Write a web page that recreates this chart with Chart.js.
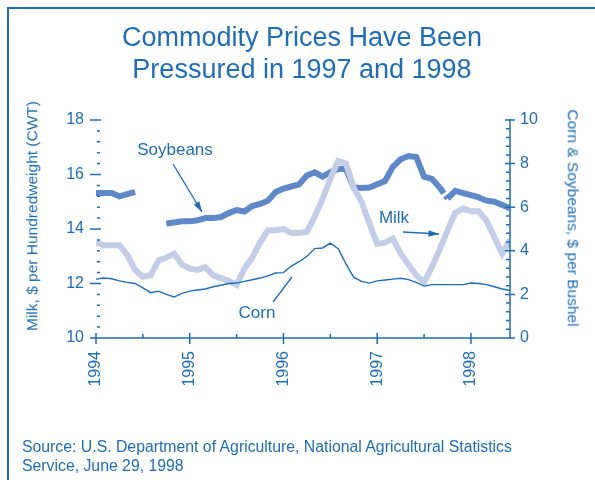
<!DOCTYPE html>
<html>
<head>
<meta charset="utf-8">
<script src="https://cdn.jsdelivr.net/npm/chart.js@4.4.0/dist/chart.umd.min.js"></script>
<style>
  body { margin: 0; background: #fff; font-family: "Liberation Sans", Arial, sans-serif; }
  #wrap { position: relative; width: 595px; height: 480px; overflow: hidden; }
  #frame { position: absolute; left: 7px; top: 7px; width: 620px; height: 520px;
           border-left: 2px solid #1f6db2; border-top: 2px solid #1f6db2; }
  canvas { position: absolute; left: 0; top: 0; }
  .txt { position: absolute; color: #1f6db2; white-space: nowrap; line-height: 1; }
  #title { left: 0; width: 604px; top: 21px; text-align: center; font-size: 27px; line-height: 32px; }
  #source { left: 22px; top: 437px; font-size: 15.8px; line-height: 19px; }
  #yTitleL { left: 32px; top: 216px; font-size: 15.5px; transform: translate(-50%, -50%) rotate(-90deg); }
  #yTitleR { left: 573px; top: 218px; font-size: 15.5px; transform: translate(-50%, -50%) rotate(90deg); }
  .note { font-size: 17px; transform: translate(-50%, -50%); }
</style>
</head>
<body>
<div id="wrap">
  <div id="frame"></div>
  <canvas id="chart" width="595" height="480"></canvas>
  <div class="txt" id="title">Commodity Prices Have Been<br>Pressured in 1997 and 1998</div>
  <div class="txt" id="yTitleL">Milk, $ per Hundredweight (CWT)</div>
  <div class="txt" id="yTitleR">Corn &amp; Soybeans, $ per Bushel</div>
  <div class="txt note" style="left:175px; top:149px;">Soybeans</div>
  <div class="txt note" style="left:257px; top:312px;">Corn</div>
  <div class="txt note" style="left:394px; top:217px;">Milk</div>
  <div class="txt" id="source">Source: U.S. Department of Agriculture, National Agricultural Statistics<br>Service, June 29, 1998</div>
</div>
<script>
// monthly prices, Jan 1994 - Jun 1998
const years = ['1994', '1995', '1996', '1997', '1998'];

// milk, $ per cwt (left axis)
const milk = [
  13.5, 13.4, 13.4, 13.4, 13.05, 12.5, 12.25, 12.3, 12.85, 12.95, 13.1, 12.7,
  12.55, 12.5, 12.6, 12.3, 12.2, 12.1, 11.95, 12.55, 12.95, 13.5, 13.95, 13.95,
  14.0, 13.85, 13.85, 13.9, 14.45, 15.1, 15.85, 16.5, 16.4, 15.5, 15.0, 14.2,
  13.45, 13.5, 13.65, 13.1, 12.7, 12.3, 12.05, 12.6, 13.25, 13.95, 14.6, 14.75,
  14.65, 14.65, 14.3, 13.7, 13.1, 13.6
];

// soybeans, $ per bushel (right axis) - no data summer 1994
const soybeans = [
  6.65, 6.65, 6.65, 6.5, 6.6, 6.7, null, null, null, 5.25, 5.3, 5.35,
  5.35, 5.4, 5.5, 5.5, 5.55, 5.73, 5.87, 5.8, 6.05, 6.15, 6.3, 6.7,
  6.85, 6.95, 7.05, 7.45, 7.6, 7.4, 7.6, 7.75, 7.75, 6.9, 6.88, 6.9,
  7.05, 7.2, 7.85, 8.2, 8.35, 8.3, 7.4, 7.3, 6.9, 6.4, 6.75, 6.65,
  6.55, 6.45, 6.3, 6.25, 6.1, 5.95
];

// corn, $ per bushel (right axis)
const corn = [
  2.7, 2.75, 2.72, 2.62, 2.55, 2.5, 2.3, 2.08, 2.15, 2.0, 1.88, 2.05,
  2.15, 2.2, 2.25, 2.35, 2.42, 2.5, 2.52, 2.6, 2.67, 2.75, 2.85, 2.98,
  3.0, 3.3, 3.5, 3.75, 4.1, 4.13, 4.35, 4.1, 3.4, 2.78, 2.6, 2.52,
  2.62, 2.66, 2.7, 2.74, 2.68, 2.55, 2.38, 2.45, 2.45, 2.45, 2.45, 2.45,
  2.52, 2.5, 2.45, 2.35, 2.25, 2.18
];

const blue = '#1f6db2';
const fontFam = '"Liberation Sans", Arial, sans-serif';
const pts = arr => arr.map((v, i) => ({ x: i, y: v }));

// axis lines + major/minor tick marks
const tickMarks = {
  id: 'tickMarks',
  afterDraw(chart) {
    const { ctx, chartArea: a, scales } = chart;
    const x = scales.x, yl = scales.yMilk, yr = scales.yBushel;
    ctx.save();
    ctx.strokeStyle = blue;
    ctx.lineWidth = 1.5;
    ctx.beginPath();
    ctx.moveTo(a.left - 4, a.bottom); ctx.lineTo(a.right, a.bottom);
    ctx.moveTo(a.right, a.top - 1); ctx.lineTo(a.right, a.bottom);
    for (let m = 0; m <= x.max; m += 6) {
      const px = x.getPixelForValue(m);
      if (m % 12 === 0) { ctx.moveTo(px, a.bottom - 5); ctx.lineTo(px, a.bottom + 6); }
      else { ctx.moveTo(px, a.bottom - 4); ctx.lineTo(px, a.bottom); }
    }
    for (let i = 0; i <= 20; i++) {
      const py = yl.getPixelForValue(yl.min + i * 0.4);
      if (i % 5 === 0) { ctx.moveTo(a.left - 6, py); ctx.lineTo(a.left + 5, py); }
      else { ctx.moveTo(a.left + 1, py); ctx.lineTo(a.left + 4, py); }
    }
    for (let i = 0; i <= 25; i++) {
      const py = yr.getPixelForValue(i * 0.4);
      if (i % 5 === 0) { ctx.moveTo(a.right - 5, py); ctx.lineTo(a.right + 5, py); }
      else { ctx.moveTo(a.right - 4, py); ctx.lineTo(a.right, py); }
    }
    ctx.stroke();

    // pointer lines for the series notes
    const arrow = (x1, y1, x2, y2, head) => {
      ctx.beginPath();
      ctx.moveTo(x1, y1); ctx.lineTo(x2, y2);
      ctx.stroke();
      if (!head) return;
      const ang = Math.atan2(y2 - y1, x2 - x1);
      ctx.beginPath();
      ctx.moveTo(x2, y2);
      ctx.lineTo(x2 - 11 * Math.cos(ang - 0.3), y2 - 11 * Math.sin(ang - 0.3));
      ctx.lineTo(x2 - 11 * Math.cos(ang + 0.3), y2 - 11 * Math.sin(ang + 0.3));
      ctx.closePath();
      ctx.fill();
    };
    ctx.fillStyle = blue;
    ctx.lineWidth = 1.3;
    arrow(173, 164, 202, 212, true);
    arrow(273, 302, 292, 277, false);
    arrow(403, 232, 439, 234, true);
    ctx.restore();
  }
};

new Chart(document.getElementById('chart'), {
  type: 'line',
  data: {
    datasets: [
      { label: 'Corn', data: pts(corn), yAxisID: 'yBushel',
        borderColor: blue, borderWidth: 1.4, pointRadius: 0, tension: 0 },
      { label: 'Milk', data: pts(milk), yAxisID: 'yMilk',
        borderColor: '#c3cde7', borderWidth: 6, pointRadius: 0, tension: 0 },
      { label: 'Soybeans', data: pts(soybeans), yAxisID: 'yBushel',
        borderColor: '#5e88c8', borderWidth: 6, pointRadius: 0, tension: 0, spanGaps: false,
        segment: { borderDash: c => (c.p0DataIndex === 44 ? [7, 3] : undefined) } }
    ]
  },
  options: {
    responsive: false,
    animation: false,
    layout: { padding: { top: 120, left: 0, right: 0, bottom: 0 } },
    plugins: { legend: { display: false }, tooltip: { enabled: false } },
    scales: {
      x: {
        type: 'linear', min: 0, max: 53,
        grid: { display: false, drawTicks: false }, border: { display: false },
        afterFit: s => { s.height = 142; },
        ticks: {
          stepSize: 12, includeBounds: false, autoSkip: false,
          minRotation: 90, maxRotation: 90, padding: 13,
          color: blue, font: { family: fontFam, size: 16 },
          callback: v => (v % 12 === 0 ? years[v / 12] : '')
        }
      },
      yMilk: {
        position: 'left', min: 10, max: 18,
        grid: { display: false, drawTicks: false }, border: { display: false },
        afterFit: s => { s.width = 96; },
        ticks: { stepSize: 2, padding: 12, color: blue, font: { family: fontFam, size: 16 } }
      },
      yBushel: {
        position: 'right', min: 0, max: 10,
        grid: { display: false, drawTicks: false }, border: { display: false },
        afterFit: s => { s.width = 85; },
        ticks: { stepSize: 2, padding: 10, color: blue, font: { family: fontFam, size: 16 } }
      }
    }
  },
  plugins: [tickMarks]
});
</script>
</body>
</html>
